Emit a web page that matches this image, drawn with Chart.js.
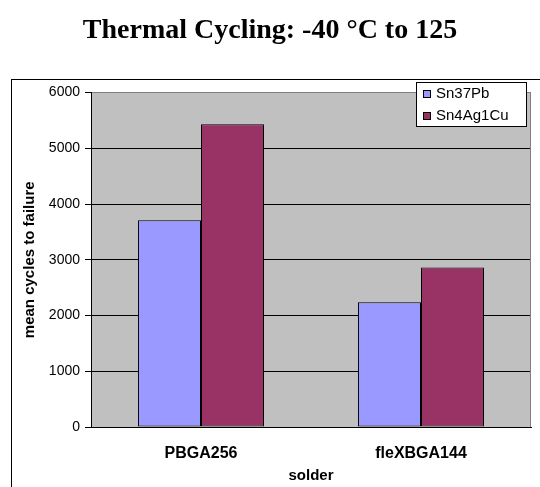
<!DOCTYPE html>
<html>
<head>
<meta charset="utf-8">
<script src="https://cdn.jsdelivr.net/npm/chart.js@4"></script>
<style>
  html, body { margin: 0; padding: 0; background: #fff; }
  canvas { display: block; }
</style>
</head>
<body>
<canvas id="chart" width="540" height="487"></canvas>
<script>
'use strict';

// mean cycles to failure per package, one array per solder alloy
const packages = ['PBGA256', 'fleXBGA144'];
const sn37pb = [3710, 2240];
const sn4ag1cu = [5430, 2860];
const seriesNames = ['Sn37Pb', 'Sn4Ag1Cu'];
const seriesColors = ['#9999FF', '#993366'];
const yTicks = [0, 1000, 2000, 3000, 4000, 5000, 6000];

Chart.defaults.font.family = '"Liberation Sans", Arial, sans-serif';
Chart.defaults.color = '#000';

/**
 * Grey plot background, outer frame, right edge of the plot and a boxed legend
 */
const excelLook = {
    id: 'excelLook',
    beforeDraw: function (chart) {
        const ctx = chart.ctx;
        const a = chart.chartArea;
        ctx.save();
        ctx.fillStyle = '#C0C0C0';
        ctx.fillRect(a.left, a.top, a.right - a.left, a.bottom - a.top);
        ctx.strokeStyle = '#000';
        ctx.lineWidth = 1;
        ctx.strokeRect(11.5, 79.5, 700, 700);
        ctx.restore();
    },
    beforeDatasetsDraw: function (chart) {
        const ctx = chart.ctx;
        const a = chart.chartArea;
        ctx.save();
        ctx.strokeStyle = '#808080';
        ctx.lineWidth = 1;
        ctx.beginPath();
        ctx.moveTo(a.right - 0.5, a.top);
        ctx.lineTo(a.right - 0.5, a.bottom);
        ctx.stroke();
        ctx.restore();
    },
    afterDraw: function (chart) {
        const ctx = chart.ctx;
        const sets = chart.data.datasets;
        const box = {x: 416, y: 82, w: 111, h: 45};
        ctx.save();
        ctx.fillStyle = '#fff';
        ctx.fillRect(box.x, box.y, box.w, box.h);
        ctx.strokeStyle = '#000';
        ctx.lineWidth = 1;
        ctx.strokeRect(box.x + 0.5, box.y + 0.5, box.w - 1, box.h - 1);
        ctx.font = '15px "Liberation Sans", Arial, sans-serif';
        ctx.textBaseline = 'middle';
        ctx.textAlign = 'left';
        sets.forEach(function (ds, i) {
            const cy = box.y + 12 + i * 22;
            ctx.fillStyle = ds.backgroundColor;
            ctx.fillRect(423.5, cy - 3.5, 7, 7);
            ctx.strokeRect(423.5, cy - 3.5, 7, 7);
            ctx.fillStyle = '#000';
            ctx.fillText(ds.label, 436, cy);
        });
        ctx.restore();
    }
};

new Chart(document.getElementById('chart'), {
    type: 'bar',
    data: {
        labels: packages,
        datasets: [sn37pb, sn4ag1cu].map(function (values, i) {
            return {
                label: seriesNames[i],
                data: values,
                backgroundColor: seriesColors[i],
                borderColor: '#000',
                borderWidth: 1,
                borderSkipped: false,
                categoryPercentage: 0.573,
                barPercentage: 1
            };
        })
    },
    options: {
        responsive: false,
        animation: false,
        layout: {padding: {left: 9, right: 9, top: 0, bottom: 0}},
        plugins: {
            legend: {display: false},
            tooltip: {enabled: false},
            title: {
                display: true,
                text: 'Thermal Cycling: -40 °C to 125',
                color: '#000',
                font: {family: '"Liberation Serif", "Times New Roman", serif', size: 28, weight: 'bold', lineHeight: 1.2},
                padding: {top: 14, bottom: 45}
            }
        },
        scales: {
            x: {
                grid: {display: false},
                border: {color: '#000', width: 1},
                ticks: {font: {size: 16, weight: 'bold'}, padding: 9},
                title: {
                    display: true,
                    text: 'solder',
                    font: {size: 15, weight: 'bold', lineHeight: 1.2},
                    padding: {top: 0, bottom: 2}
                },
                afterFit: function (scale) { scale.height = 60; }
            },
            y: {
                min: yTicks[0],
                max: yTicks[yTicks.length - 1],
                ticks: {
                    stepSize: yTicks[1] - yTicks[0],
                    font: {size: 14},
                    padding: 5,
                    callback: function (value) { return String(value); }
                },
                grid: {
                    color: function (c) { return c.tick && c.tick.value === yTicks[yTicks.length - 1] ? '#808080' : '#000'; },
                    tickColor: '#000',
                    tickLength: 6,
                    lineWidth: 1
                },
                border: {color: '#000', width: 1},
                title: {
                    display: true,
                    text: 'mean cycles to failure',
                    font: {size: 15, weight: 'bold', lineHeight: 1.2},
                    padding: {top: 12, bottom: 0}
                },
                afterFit: function (scale) { scale.width = 82; }
            }
        }
    },
    plugins: [excelLook]
});
</script>
</body>
</html>
